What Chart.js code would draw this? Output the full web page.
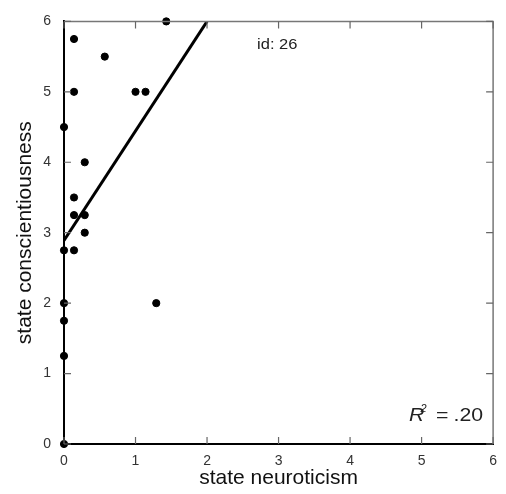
<!DOCTYPE html>
<html>
<head>
<meta charset="utf-8">
<script src="https://cdn.jsdelivr.net/npm/chart.js@4"></script>
<style>
  html, body { margin: 0; padding: 0; background: #fff; }
  #wrap { width: 506px; height: 494px; }
</style>
</head>
<body>
<div id="wrap"><canvas id="chart"></canvas></div>
<script>
const neuroticism = [0, 0, 0, 0, 0, 0, 0.14, 0.14, 0.14, 0.14, 0.14, 0.29, 0.29, 0.29, 0.57, 1.0, 1.14, 1.43, 1.29]
const conscientiousness = [0, 1.25, 1.75, 2, 2.75, 4.5, 2.75, 3.25, 3.5, 5, 5.75, 3, 3.25, 4, 5.5, 5, 5, 6, 2]

// fitted line, clipped to the top of the plot
const fitX = [0, 2]
const fitY = [2.89, 6]

const axisTicks = [0, 1, 2, 3, 4, 5, 6]
const idLabel = "id: 26"
const rSquared = ".20"

const FONT = "'Liberation Sans', Arial, Helvetica, sans-serif"

// text drawn slightly wider than the font's natural width
function wideText(ctx, text, x, y, font, stretch) {
  ctx.save()
  ctx.translate(x, y)
  ctx.scale(stretch, 1)
  ctx.font = font
  ctx.fillText(text, 0, 0)
  ctx.restore()
}

const frame = {
  id: "frame",
  afterDraw(chart) {
    const { ctx, chartArea: a, scales: { x, y } } = chart
    ctx.save()
    // top and right edges of the box
    ctx.strokeStyle = "#777"
    ctx.lineWidth = 1.5
    ctx.beginPath()
    ctx.moveTo(a.left, a.top)
    ctx.lineTo(a.right, a.top)
    ctx.lineTo(a.right, a.bottom)
    ctx.stroke()

    // inward ticks on all four sides
    const len = 7
    ctx.strokeStyle = "#666"
    ctx.lineWidth = 1.2
    ctx.beginPath()
    axisTicks.forEach((v) => {
      const px = x.getPixelForValue(v)
      const py = y.getPixelForValue(v)
      ctx.moveTo(px, a.bottom); ctx.lineTo(px, a.bottom - len)
      ctx.moveTo(px, a.top); ctx.lineTo(px, a.top + len)
      ctx.moveTo(a.left, py); ctx.lineTo(a.left + len, py)
      ctx.moveTo(a.right, py); ctx.lineTo(a.right - len, py)
    })
    ctx.stroke()

    ctx.fillStyle = "#222"
    ctx.textBaseline = "alphabetic"
    ctx.textAlign = "left"
    wideText(ctx, idLabel, x.getPixelForValue(2.7), a.top + 28, `15px ${FONT}`, 1.1)

    // R² = .20 in the lower right corner
    const base = a.bottom - 23
    wideText(ctx, "R", a.right - 84, base, `italic 18.5px ${FONT}`, 1.15)
    wideText(ctx, "2", a.right - 72.5, base - 9, `italic 10px ${FONT}`, 1.1)
    wideText(ctx, "=", a.right - 57, base, `18.5px ${FONT}`, 1.15)
    wideText(ctx, rSquared, a.right - 39.5, base, `18.5px ${FONT}`, 1.15)
    ctx.restore()
  },
}

const points = neuroticism.map((v, i) => ({ x: v, y: conscientiousness[i] }))
const fit = fitX.map((v, i) => ({ x: v, y: fitY[i] }))

new Chart(document.getElementById("chart"), {
  type: "scatter",
  data: {
    datasets: [
      {
        type: "line",
        data: fit,
        borderColor: "#000",
        borderWidth: 3,
        pointRadius: 0,
        fill: false,
      },
      {
        data: points,
        backgroundColor: "#000",
        borderColor: "#000",
        pointRadius: 3.6,
        pointHoverRadius: 3.6,
        clip: false,
      },
    ],
  },
  options: {
    responsive: true,
    maintainAspectRatio: false,
    animation: false,
    events: [],
    layout: { padding: { top: 13, right: 12, left: 0, bottom: 0 } },
    plugins: { legend: { display: false }, tooltip: { enabled: false } },
    scales: {
      x: {
        type: "linear",
        min: 0,
        max: 6,
        afterFit: (scale) => { scale.height = 50 },
        grid: { display: false, drawTicks: false },
        border: { display: true, color: "#000", width: 2 },
        ticks: { stepSize: 1, padding: 9, color: "#333", font: { family: FONT, size: 14 } },
        title: { display: true, text: "state neuroticism", color: "#111", padding: { top: 0, bottom: 3 }, font: { family: FONT, size: 21 } },
      },
      y: {
        type: "linear",
        min: 0,
        max: 6,
        afterFit: (scale) => { scale.width = 64 },
        grid: { display: false, drawTicks: false },
        border: { display: true, color: "#000", width: 2 },
        ticks: { stepSize: 1, padding: 13, color: "#333", font: { family: FONT, size: 14 } },
        title: { display: true, text: "state conscientiousness", color: "#111", padding: { top: 13, bottom: 0 }, font: { family: FONT, size: 21 } },
      },
    },
  },
  plugins: [frame],
})
</script>
</body>
</html>
